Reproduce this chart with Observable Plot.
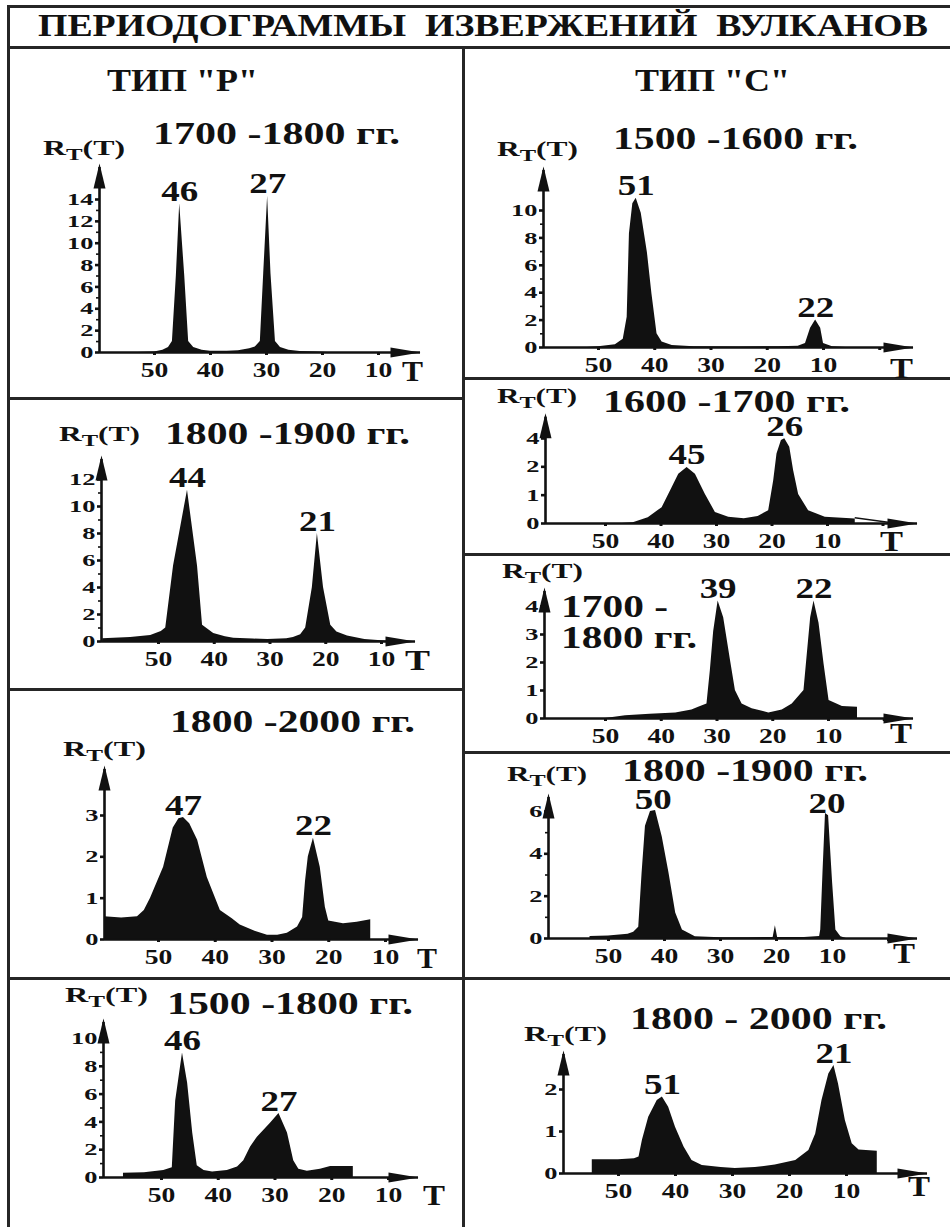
<!DOCTYPE html>
<html><head><meta charset="utf-8">
<script src="https://cdn.jsdelivr.net/npm/d3@7"></script>
<script src="https://cdn.jsdelivr.net/npm/@observablehq/plot@0.6"></script>
<style>
body{margin:0;background:#fff}
#stage{position:relative;width:950px;height:1227px;overflow:hidden;background:#fff}
.ln{position:absolute;background:#262626}
.lbl{position:absolute;white-space:pre;line-height:0.8;transform-origin:0 0;font-weight:bold;color:#111}
.lbl sub{font-size:0.78em;vertical-align:-0.32em;line-height:0}
.pl{position:absolute}
</style></head><body><div id="stage"></div><script>
// ---------------- data ----------------
const chartTitle = "ПЕРИОДОГРАММЫ  ИЗВЕРЖЕНИЙ  ВУЛКАНОВ";
const typeTitles = ['ТИП "Р"', 'ТИП "С"'];
const periodTitles = ["1700 -1800 гг.", "1800 -1900 гг.", "1800 -2000 гг.", "1500 -1800 гг.",
  "1500 -1600 гг.", "1600 -1700 гг.", "1700 -\n1800 гг.", "1800 -1900 гг.", "1800 - 2000 гг."];
const yAxisLabel = "R<sub>T</sub>(T)";
const xAxisLabel = "T";
const xTicksP = [50, 40, 30, 20, 10];
const xTicksC = [50, 40, 30, 20, 10, 0];

// type "P" (left column)
const p1T = [53, 50, 48.5, 47.5, 46.8, 46.1, 45.5, 44.6, 43.9, 43, 41.5, 40, 37, 35, 33, 32, 31.1, 30.5, 29.8, 29.2, 28.4, 27.5, 26, 24, 21, 19];
const p1R = [0, 0.05, 0.2, 0.45, 1.0, 7, 13.6, 7, 1.0, 0.45, 0.2, 0.12, 0.12, 0.15, 0.35, 0.5, 1.0, 7.2, 14.3, 7.2, 1.0, 0.45, 0.2, 0.1, 0.05, 0];
const p1PeakT = [45.5, 29.8], p1PeakR = [13.6, 14.3], p1PeakLabels = ["46", "27"];
const p1YTicks = [0, 2, 4, 6, 8, 10, 12, 14], p1YMinor = [1, 3, 5, 7, 9, 11, 13];

const p2T = [60, 55, 51.4, 49.5, 48.7, 47.3, 44.8, 43, 42.1, 40.1, 38, 36.5, 33, 30.4, 27, 25.8, 24.5, 23.6, 22.4, 21.5, 20.4, 19.1, 18, 16.1, 13, 10, 8];
const p2R = [0.2, 0.3, 0.45, 0.75, 1.0, 5.6, 11.2, 5.6, 1.2, 0.6, 0.35, 0.25, 0.18, 0.15, 0.2, 0.3, 0.5, 1.0, 4.0, 8.0, 4.0, 1.2, 0.7, 0.4, 0.15, 0.05, 0];
const p2PeakT = [44.8, 21.5], p2PeakR = [11.2, 8.0], p2PeakLabels = ["44", "21"];
const p2YTicks = [0, 2, 4, 6, 8, 10, 12], p2YMinor = [1, 3, 5, 7, 9, 11];

const p3T = [59.5, 56.5, 53.7, 52.5, 51.4, 49.1, 47.4, 46.4, 45.6, 44.5, 43.1, 41.4, 39.1, 37, 35.6, 33, 30.8, 29, 27.3, 25.5, 24.6, 24.1, 23.6, 22.7, 21.5, 20.6, 20.0, 17.4, 15, 12.6, 12.6];
const p3R = [0.55, 0.52, 0.55, 0.7, 1.0, 1.75, 2.7, 2.92, 2.95, 2.8, 2.4, 1.5, 0.7, 0.5, 0.35, 0.2, 0.1, 0.1, 0.15, 0.3, 0.53, 1.4, 2.0, 2.45, 1.75, 0.78, 0.45, 0.38, 0.42, 0.48, 0];
const p3PeakT = [45.6, 22.7], p3PeakR = [2.95, 2.45], p3PeakLabels = ["47", "22"];
const p3YTicks = [0, 1, 2, 3], p3YMinor = [];

const p4T = [56.7, 56.7, 53, 49.6, 48.1, 47.5, 46.3, 45.4, 44.5, 43.7, 42.5, 41, 38.4, 36.6, 35.5, 34.3, 33.1, 30.8, 29.3, 27.8, 26.7, 25.8, 24.3, 22, 20.2, 16.2, 16.2];
const p4R = [0, 0.3, 0.35, 0.5, 0.7, 5.5, 8.95, 6.8, 3.2, 0.85, 0.5, 0.4, 0.5, 0.75, 1.2, 2.2, 2.9, 3.9, 4.6, 3.2, 1.2, 0.6, 0.45, 0.6, 0.8, 0.8, 0];
const p4PeakT = [46.3, 29.3], p4PeakR = [8.95, 4.6], p4PeakLabels = ["46", "27"];
const p4YTicks = [0, 2, 4, 6, 8, 10], p4YMinor = [1, 3, 5, 7, 9];

// type "C" (right column)
const c1T = [52, 50, 47, 45.6, 44.9, 44.5, 43.9, 43.3, 42.4, 41.3, 40.5, 39.6, 38.7, 36.9, 33, 25, 18, 14.5, 13.2, 12.3, 11.4, 10.5, 10, 8.4, 6];
const c1R = [0, 0.05, 0.2, 0.6, 2.2, 8.3, 10.5, 10.9, 9.8, 6.9, 3.9, 1.0, 0.4, 0.15, 0.05, 0.04, 0.05, 0.1, 0.3, 1.4, 2.0, 1.4, 0.3, 0.05, 0];
const c1PeakT = [43.3, 11.4], c1PeakR = [10.9, 2.0], c1PeakLabels = ["51", "22"];
const c1YTicks = [0, 2, 4, 6, 8, 10], c1YMinor = [1, 3, 5, 7, 9];

const c2T = [47, 45, 42.3, 39.8, 38.0, 36.8, 35.3, 33.8, 32.0, 30.2, 27.8, 25, 22.5, 20.6, 19.7, 19.1, 18.3, 17.7, 16.8, 16.1, 15.2, 13.4, 10.4, 5.0, 5.0, -1];
const c2R = [0, 0.03, 0.2, 0.56, 1.26, 1.74, 1.98, 1.74, 1.02, 0.39, 0.22, 0.17, 0.25, 0.45, 1.5, 2.9, 3.86, 3.98, 3.38, 1.86, 1.02, 0.45, 0.22, 0.16, 0.05, 0.05];
const c2PeakT = [35.3, 17.7], c2PeakR = [1.98, 3.98], c2PeakLabels = ["45", "26"];
const c2YTicks = [0, 1, 2, 4], c2YMinor = [];

const c3T = [50, 46.4, 42, 37.4, 34.5, 33.3, 31.8, 31.2, 30.6, 29.8, 28.8, 27.6, 26.7, 25.5, 23.7, 20.7, 18.3, 16.5, 14.4, 13.8, 13.2, 12.6, 11.7, 10.8, 9.9, 7.5, 4.8, 4.8];
const c3R = [0, 0.1, 0.15, 0.2, 0.3, 0.4, 0.52, 1.7, 3.1, 4.2, 3.6, 2.1, 1.0, 0.52, 0.35, 0.2, 0.3, 0.52, 1.0, 2.3, 3.6, 4.2, 3.4, 1.95, 0.64, 0.43, 0.4, 0];
const c3PeakT = [29.8, 12.6], c3PeakR = [4.2, 4.2], c3PeakLabels = ["39", "22"];
const c3YTicks = [0, 1, 2, 3, 4], c3YMinor = [];

const c4T = [53.3, 53.3, 50, 46.5, 45.5, 44.6, 44.0, 43.4, 42.5, 41.6, 40.4, 39.2, 38.0, 36.8, 34.5, 30, 25, 20.6, 20.2, 19.8, 15, 12.3, 12.1, 11.7, 11.25, 10.7, 10.0, 9.4, 8.5, 7.5];
const c4R = [0, 0.1, 0.12, 0.2, 0.3, 0.53, 3.1, 5.3, 6.0, 6.05, 4.8, 3.1, 1.2, 0.4, 0.08, 0.04, 0.04, 0.05, 0.6, 0.05, 0.05, 0.1, 0.4, 3.1, 5.9, 5.8, 2.7, 0.4, 0.08, 0];
const c4PeakT = [42.0, 11.0], c4PeakR = [6.05, 5.9], c4PeakLabels = ["50", "20"];
const c4YTicks = [0, 2, 4, 6], c4YMinor = [1, 3, 5];

const c5T = [54.6, 54.6, 50, 47.2, 46.4, 45.8, 44.7, 43.2, 42.3, 41.2, 40.0, 38.5, 37.1, 35.3, 32, 29.5, 26, 22.5, 18.9, 16.6, 15.4, 14.3, 13.1, 12.2, 11.4, 10.2, 9.0, 7.8, 4.6, 4.6];
const c5R = [0, 0.33, 0.33, 0.35, 0.39, 0.79, 1.34, 1.74, 1.82, 1.58, 1.1, 0.63, 0.31, 0.19, 0.14, 0.12, 0.14, 0.2, 0.31, 0.55, 0.94, 1.74, 2.37, 2.57, 2.13, 1.26, 0.71, 0.56, 0.53, 0];
const c5PeakT = [42.3, 12.2], c5PeakR = [1.82, 2.57], c5PeakLabels = ["51", "21"];
const c5YTicks = [0, 1, 2], c5YMinor = [];

// ---------------- layout (pixels in the page) ----------------
const panelLayout = [
  {col:0, top:50,  bottom:396,  ax:99,  ay:352,  x50:154, x10:378, yPx:[352,199], yDom:[0,14], yTopPx:163, xEndPx:420,
   title:[153,125,400], yl:[43,142,125], tl:[402,363,423]},
  {col:0, top:400, bottom:687,  ax:101, ay:641,  x50:158, x10:381, yPx:[641,479], yDom:[0,12], yTopPx:455, xEndPx:415,
   title:[165,425,410], yl:[59,428,140], tl:[405,652,430]},
  {col:0, top:691, bottom:976,  ax:104, ay:939,  x50:158, x10:385, yPx:[939,815], yDom:[0,3], yTopPx:765, xEndPx:418,
   title:[170,713,415], yl:[63,743,146], tl:[417,950,437]},
  {col:0, top:980, bottom:1227, ax:103, ay:1177, x50:161, x10:388, yPx:[1177,1038], yDom:[0,10], yTopPx:1018, xEndPx:418,
   title:[167,995,413], yl:[65,989,148], tl:[423,1187,445]},
  {col:1, top:50,  bottom:376,  ax:543, ay:347,  x50:598, x10:823, yPx:[347,210], yDom:[0,10], yTopPx:166, xEndPx:913,
   title:[613,130,858], yl:[497,143,578], tl:[890,360,913]},
  {col:1, top:380, bottom:552,  ax:545, ay:523,  x50:605, x10:827, yPx:[523,494,466,438], yDom:[0,1,2,4], yTopPx:413, xEndPx:917,
   title:[603,393,850], yl:[497,390,577], tl:[880,533,903]},
  {col:1, top:556, bottom:750,  ax:544, ay:718,  x50:605, x10:828, yPx:[718,606], yDom:[0,4], yTopPx:587, xEndPx:913,
   title:[561,598,668], title2:[561,629,697], yl:[502,565,583], tl:[890,725,912]},
  {col:1, top:754, bottom:976,  ax:548, ay:938,  x50:608, x10:832, yPx:[938,811], yDom:[0,6], yTopPx:793, xEndPx:917,
   title:[622,762,868], yl:[507,768,587], tl:[893,945,915]},
  {col:1, top:980, bottom:1227, ax:563, ay:1173, x50:618, x10:846, yPx:[1173,1089], yDom:[0,2], yTopPx:1050, xEndPx:927,
   title:[630,1010,887], yl:[524,1028,607], tl:[908,1178,930]}
];

const panelData = [
  {T:p1T, R:p1R, pT:p1PeakT, pR:p1PeakR, pL:p1PeakLabels, yt:p1YTicks, ym:p1YMinor, xt:xTicksP},
  {T:p2T, R:p2R, pT:p2PeakT, pR:p2PeakR, pL:p2PeakLabels, yt:p2YTicks, ym:p2YMinor, xt:xTicksP},
  {T:p3T, R:p3R, pT:p3PeakT, pR:p3PeakR, pL:p3PeakLabels, yt:p3YTicks, ym:p3YMinor, xt:xTicksP},
  {T:p4T, R:p4R, pT:p4PeakT, pR:p4PeakR, pL:p4PeakLabels, yt:p4YTicks, ym:p4YMinor, xt:xTicksP},
  {T:c1T, R:c1R, pT:c1PeakT, pR:c1PeakR, pL:c1PeakLabels, yt:c1YTicks, ym:c1YMinor, xt:xTicksC},
  {T:c2T, R:c2R, pT:c2PeakT, pR:c2PeakR, pL:c2PeakLabels, yt:c2YTicks, ym:c2YMinor, xt:xTicksC},
  {T:c3T, R:c3R, pT:c3PeakT, pR:c3PeakR, pL:c3PeakLabels, yt:c3YTicks, ym:c3YMinor, xt:xTicksC},
  {T:c4T, R:c4R, pT:c4PeakT, pR:c4PeakR, pL:c4PeakLabels, yt:c4YTicks, ym:c4YMinor, xt:xTicksC},
  {T:c5T, R:c5R, pT:c5PeakT, pR:c5PeakR, pL:c5PeakLabels, yt:c5YTicks, ym:c5YMinor, xt:xTicksC}
];

// ---------------- font metrics ----------------
const FONT = '"Liberation Serif", "Times New Roman", "DejaVu Serif", serif';
const LH = 0.8;
const ctx = document.createElement("canvas").getContext("2d");
ctx.font = `bold 100px ${FONT}`;
const mDig = ctx.measureText("0");
const digitW = ctx.measureText("0123456789").width / 1000;
const digitH = mDig.actualBoundingBoxAscent / 100;
const mCap = ctx.measureText("H");
const capH = mCap.actualBoundingBoxAscent / 100;
const fAsc = (mCap.fontBoundingBoxAscent || 89) / 100, fDesc = (mCap.fontBoundingBoxDescent || 22) / 100;
const baseEm = (LH - (fAsc + fDesc)) / 2 + fAsc;

function fit(h, w) { const size = h / digitH; return {size: +size.toFixed(2), k: w / (digitW * size)}; }
const fx = fit(13.2, 13.8);   // x tick labels
const fy = fit(11.6, 13.2);   // y tick labels
const fp = fit(20, 18.5);     // peak labels

// ---------------- drawing ----------------
const stage = document.getElementById("stage");
const INK = "#111";

const frameLines = [
  [8, 5, 942, 3], [8, 46, 942, 3], [7, 5, 3, 1222], [462, 47, 3, 1180],
  [8, 397, 456, 3], [8, 688, 456, 3], [8, 977, 456, 3],
  [464, 377, 486, 3], [464, 553, 486, 3], [464, 751, 486, 3], [464, 977, 486, 3]
];
for (const [l, t, w, h] of frameLines) {
  const d = document.createElement("div");
  d.className = "ln";
  d.style.cssText = `left:${l}px;top:${t}px;width:${w}px;height:${h}px`;
  stage.appendChild(d);
}

function addLabel(html, left, capTop, right, ch) {
  const size = ch / capH;
  const d = document.createElement("div");
  d.className = "lbl";
  d.style.fontFamily = FONT;
  d.style.left = left + "px";
  d.style.top = (capTop - (baseEm - capH) * size) + "px";
  d.style.fontSize = size + "px";
  d.innerHTML = html;
  stage.appendChild(d);
  const w = d.getBoundingClientRect().width;
  d.style.transform = `scaleX(${(right - left) / w})`;
}

const arrowRight = {draw(c) { c.moveTo(0, 0); c.lineTo(-30, -5); c.lineTo(-30, 5); c.closePath(); }};
const arrowUp = {draw(c) { c.moveTo(0, 0); c.lineTo(-6, 25); c.lineTo(6, 25); c.closePath(); }};

panelLayout.forEach((L, i) => {
  const D = panelData[i];
  const left = L.col === 0 ? 11 : 466, width = L.col === 0 ? 451 : 484;
  const top = L.top, height = L.bottom - L.top;
  const k = (L.x10 - L.x50) / 40;
  const tLeft = 50 + (L.x50 - L.ax) / k;
  const tRight = 50 - (L.xEndPx - L.x50) / k;
  const n = L.yDom.length;
  const rTop = L.yDom[n - 1] + (L.yPx[n - 1] - L.yTopPx) * (L.yDom[n - 1] - L.yDom[n - 2]) / (L.yPx[n - 2] - L.yPx[n - 1]);

  // y scale: linear, or piecewise (equally spaced ticks 0,1,2,4) through a scale transform
  let yScale, tf = v => v;
  if (n > 2) {
    const dom = L.yDom;
    tf = v => {
      let j = 0;
      while (j < dom.length - 2 && v > dom[j + 1]) j++;
      return j + (v - dom[j]) / (dom[j + 1] - dom[j]);
    };
    yScale = {domain: [0, n - 1], range: [L.yPx[0] - top, L.yPx[n - 1] - top], transform: tf};
  } else {
    yScale = {domain: L.yDom, range: L.yPx.map(p => p - top)};
  }
  const tickLabel = new Map(D.yt.map(v => [tf(v), String(v)]));

  const rows = D.T.map((t, j) => ({T: t, R: D.R[j]}));
  const peaks = D.pT.map((t, j) => ({T: t, R: D.pR[j], label: D.pL[j]}));

  const marks = [
    Plot.areaY(rows, {x: "T", y: "R", fill: INK, curve: "linear"}),
    Plot.ruleY([{R: 0}], {y: "R", x1: tLeft, x2: tRight, stroke: INK, strokeWidth: 2.6}),
    Plot.ruleX([{T: tLeft, R0: 0, R1: rTop}], {x: "T", y1: "R0", y2: "R1", stroke: INK, strokeWidth: 2.6, insetBottom: -4}),
    Plot.dot([{T: tRight, R: 0}], {x: "T", y: "R", symbol: arrowRight, fill: INK, stroke: "none"}),
    Plot.dot([{T: tLeft, R: rTop}], {x: "T", y: "R", symbol: arrowUp, fill: INK, stroke: "none"}),
    Plot.axisX({ticks: D.xt, tickFormat: v => v === 0 ? "" : String(v), tickSize: 3, tickPadding: 7,
      strokeWidth: 3, fontSize: fx.size, label: null}),
    Plot.axisY({ticks: D.yt.map(tf), tickFormat: v => tickLabel.get(v) ?? "", tickSize: 4, tickPadding: 2,
      strokeWidth: 2.6, fontSize: fy.size, label: null}),
    Plot.text(peaks, {x: "T", y: "R", text: "label", dy: i === 7 ? -1 : -3, lineAnchor: "bottom", fontSize: fp.size, fontWeight: "bold", fill: INK})
  ];
  if (D.ym.length) marks.push(Plot.axisY({ticks: D.ym.map(tf), tickFormat: () => "", tickSize: 3, tickPadding: 0, strokeWidth: 1.6, label: null}));

  const svg = Plot.plot({
    width, height,
    marginLeft: L.ax - left,
    marginBottom: top + height - L.ay,
    marginTop: L.yTopPx - top,
    marginRight: left + width - L.xEndPx,
    x: {domain: [50, 10], range: [L.x50 - left, L.x10 - left]},
    y: yScale,
    style: {background: "transparent", fontFamily: FONT, fontWeight: "bold", color: INK, overflow: "visible"},
    marks
  });
  const wrap = document.createElement("div");
  wrap.className = "pl";
  wrap.style.cssText = `left:${left}px;top:${top}px;width:${width}px;height:${height}px`;
  wrap.appendChild(svg);
  stage.appendChild(wrap);

  // horizontal stretch of the bold serif lettering, as in the printed original
  svg.querySelectorAll("text").forEach(t => {
    const fs = parseFloat(getComputedStyle(t).fontSize);
    const cand = [fx, fy, fp].reduce((a, b) => Math.abs(b.size - fs) < Math.abs(a.size - fs) ? b : a);
    const xa = t.getAttribute("x");
    let tr = t.getAttribute("transform") || "";
    if (xa != null && !/em/.test(xa) && !isNaN(parseFloat(xa))) {
      tr += ` translate(${parseFloat(xa)},0)`;
      t.removeAttribute("x");
    }
    t.setAttribute("transform", `${tr} scale(${cand.k},1)`);
  });

  const lines = periodTitles[i].split("\n");
  addLabel(lines[0], L.title[0], L.title[1], L.title[2], 20);
  if (lines[1] && L.title2) addLabel(lines[1], L.title2[0], L.title2[1], L.title2[2], 20);
  addLabel(yAxisLabel, L.yl[0], L.yl[1], L.yl[2], 14);
  addLabel(xAxisLabel, L.tl[0], L.tl[1], L.tl[2], 18.5);
});

addLabel(chartTitle, 38, 17, 928, 20);
addLabel(typeTitles[0], 107, 72, 258, 20);
addLabel(typeTitles[1], 635, 72, 790, 20);
</script></body></html>
